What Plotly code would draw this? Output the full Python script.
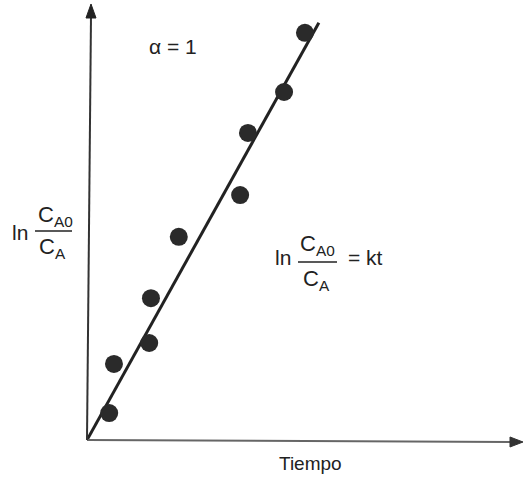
import plotly.graph_objects as go

# Measured points: time vs ln(CA0/CA), first-order reaction (alpha = 1)
tiempo = [0.51, 0.62, 1.43, 1.47, 2.11, 3.52, 3.70, 4.53, 5.01]
ln_ratio = [0.62, 1.75, 2.23, 3.26, 4.67, 5.63, 7.06, 8.00, 9.36]

# Fitted straight line through the origin: ln(CA0/CA) = k t
k = 1.80
t_fit = [0.0, 5.33]
y_fit = [k * t for t in t_fit]

FONT = "Liberation Sans, Arial, sans-serif"
INK = "#222222"

fig = go.Figure()
fig.add_trace(go.Scatter(x=t_fit, y=y_fit, mode="lines",
                         line=dict(color=INK, width=3), hoverinfo="skip"))
fig.add_trace(go.Scatter(x=tiempo, y=ln_ratio, mode="markers",
                         marker=dict(color="#2a2a2a", size=18, line=dict(width=0))))

W, H = 524, 478
L, R, T, B = 87, 2, 5, 38
pw, ph = W - L - R, H - T - B


def px(x):
    return (x - L) / pw


def py(y):
    return (H - B - y) / ph


def path(points):
    return "M " + " L ".join(f"{px(a):.5f},{py(b):.5f}" for a, b in points) + " Z"


shapes = [
    # horizontal axis with arrowhead
    dict(type="line", xref="paper", yref="paper", x0=px(87), y0=py(440), x1=px(512), y1=py(442),
         line=dict(color="#666666", width=2)),
    dict(type="path", xref="paper", yref="paper",
         path=path([(523, 442), (510, 437), (510, 447)]),
         fillcolor="#333333", line=dict(color="#333333", width=1)),
    # vertical axis with arrowhead
    dict(type="line", xref="paper", yref="paper", x0=px(87), y0=py(440), x1=px(91), y1=py(16),
         line=dict(color="#333333", width=2)),
    dict(type="path", xref="paper", yref="paper",
         path=path([(91, 4), (86, 18), (96, 18)]),
         fillcolor="#222222", line=dict(color="#222222", width=1)),
    # fraction bars
    dict(type="line", xref="paper", yref="paper", x0=px(35), x1=px(72), y0=py(231), y1=py(231),
         line=dict(color=INK, width=1.5)),
    dict(type="line", xref="paper", yref="paper", x0=px(298), x1=px(337), y0=py(262), y1=py(262),
         line=dict(color=INK, width=1.5)),
]

ann = []


def label(text, x, y, size=20, xanchor="center", yanchor="middle"):
    ann.append(dict(text=text, x=px(x), y=py(y), xref="paper", yref="paper",
                    showarrow=False, xanchor=xanchor, yanchor=yanchor,
                    font=dict(family=FONT, size=size, color=INK)))


label("α = 1", 173, 47, size=21)
label("Tiempo", 310, 463, size=19)

# y-axis title: ln CA0/CA
label("ln", 20, 233, size=21)
label("C<sub>A0</sub>", 36, 216, size=22, xanchor="left")
label("C<sub>A</sub>", 37, 248, size=22, xanchor="left")

# equation: ln CA0/CA = kt
label("ln", 283, 257, size=21)
label("C<sub>A0</sub>", 298, 245, size=22, xanchor="left")
label("C<sub>A</sub>", 301, 280, size=22, xanchor="left")
label("= kt", 346, 257, size=21, xanchor="left")

axis_common = dict(showgrid=False, zeroline=False, showticklabels=False, ticks="",
                   showline=False, range=[0, 10], fixedrange=True)

fig.update_layout(
    width=W, height=H,
    margin=dict(l=L, r=R, t=T, b=B, pad=0),
    paper_bgcolor="white", plot_bgcolor="white",
    showlegend=False,
    xaxis=axis_common,
    yaxis=axis_common,
    annotations=ann,
    shapes=shapes,
)

fig.write_html("out.html")
